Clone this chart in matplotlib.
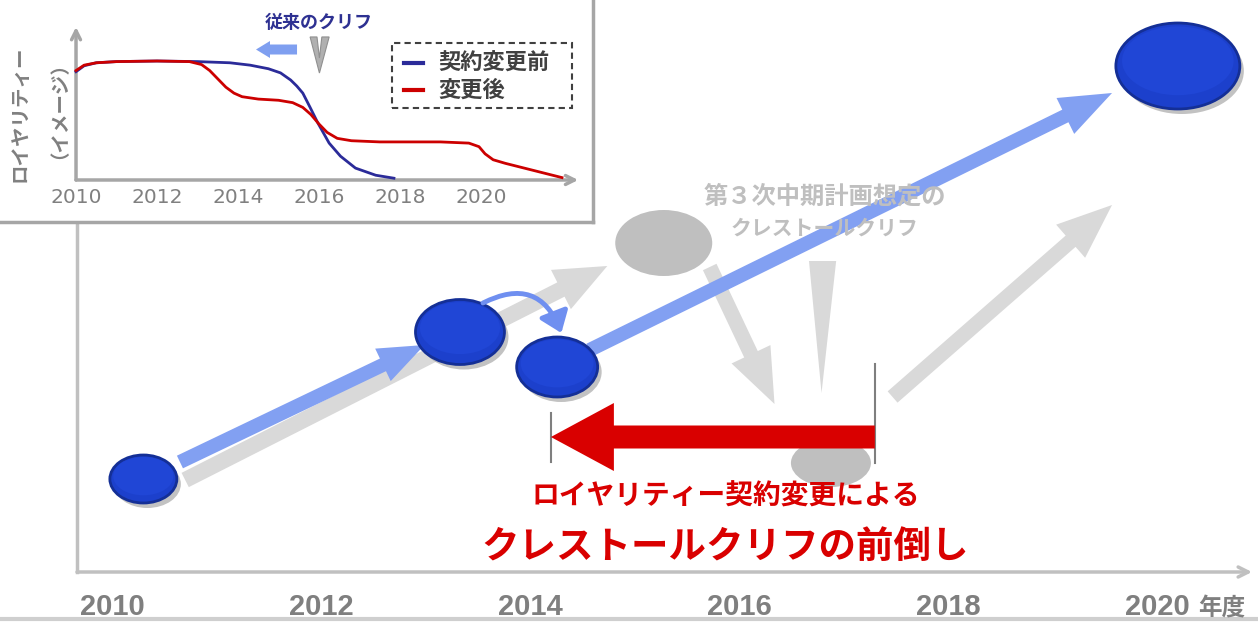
import numpy as np
import matplotlib
matplotlib.use("Agg")
import matplotlib.pyplot as plt
from matplotlib.patches import Ellipse, FancyArrowPatch, Rectangle, Polygon, ArrowStyle

plt.rcParams['font.family'] = ['Noto Sans CJK JP', 'DejaVu Sans']

DPI = 100
PT = 72.0 / DPI   # px -> pt

# ---- main diagram data (x = fiscal year, y = royalty level) ----
years = [2010, 2012, 2014, 2016, 2018, 2020]

blue_x = [2010.30, 2013.33, 2014.26, 2020.20]
blue_y = [0.93, 2.40, 2.05, 5.06]
blue_w = [67, 89, 81, 124]      # px
blue_h = [48, 65, 60, 86]

gray_x = [2015.28, 2016.88]
gray_y = [3.29, 1.09]
gray_w = [97, 80]
gray_h = [66, 48]

# arrows: (tail, head, shaft, head width, head length) in px sizes
blue_arrows = [((2010.65, 1.10), (2012.99, 2.27), 14, 36, 46),
               ((2014.57, 2.22), (2019.57, 4.79), 14, 40, 52)]
gray_arrows = [((2010.70, 0.92), (2014.74, 3.06), 16, 44, 52),
               ((2015.72, 3.05), (2016.34, 1.68), 15, 43, 55),
               ((2017.47, 1.75), (2019.57, 3.67), 15, 44, 55)]
wedge = [(2016.67, 3.11), (2016.93, 3.11), (2016.79, 1.79)]

old_cliff = 2017.30
new_cliff = 2014.20
red_y = 1.35

# ---- inset data ----
inset_years = [2010, 2012, 2014, 2016, 2018, 2020]
before_x = [2010.0, 2010.2, 2010.5, 2011.0, 2012.0, 2013.0, 2013.8, 2014.3, 2014.75, 2015.05,
            2015.3, 2015.45, 2015.6, 2015.78, 2015.97, 2016.25, 2016.53, 2016.9, 2017.4, 2017.85]
before_y = [0.91, 0.96, 0.985, 0.995, 1.0, 0.995, 0.985, 0.965, 0.935, 0.90,
            0.84, 0.79, 0.73, 0.61, 0.48, 0.31, 0.20, 0.10, 0.04, 0.015]
after_x = [2010.0, 2010.2, 2010.5, 2011.0, 2012.0, 2012.8, 2013.1, 2013.3, 2013.5, 2013.7,
           2013.9, 2014.1, 2014.5, 2015.0, 2015.35, 2015.6, 2015.8, 2016.0, 2016.2, 2016.45,
           2016.8, 2017.5, 2019.0, 2019.7, 2019.95, 2020.1, 2020.3, 2020.6, 2021.3, 2022.0]
after_y = [0.92, 0.965, 0.985, 0.995, 1.0, 0.995, 0.97, 0.92, 0.85, 0.78,
           0.73, 0.70, 0.68, 0.67, 0.65, 0.61, 0.55, 0.47, 0.40, 0.35,
           0.33, 0.32, 0.32, 0.31, 0.28, 0.22, 0.17, 0.14, 0.08, 0.02]

fig = plt.figure(figsize=(12.58, 6.23), dpi=DPI)
ax = fig.add_axes([0, 0, 1, 1])
ax.set_xlim(2008.928, 2020.967)
ax.set_ylim(-0.51, 5.72)
ax.axis('off')

sx = 1 / 104.5   # years per px
sy = 1 / 100.0   # value per px


def block_arrow(a, tail, head, shaft, hw, hl, color, z):
    st = ArrowStyle('simple', head_length=hl, head_width=hw, tail_width=shaft)
    a.add_patch(FancyArrowPatch(tail, head, arrowstyle=st, mutation_scale=PT,
                                color=color, lw=0, shrinkA=0, shrinkB=0, zorder=z))


# axes of the diagram
ax.plot([2009.665, 2009.665], [0, 3.6], color='#c0c0c0', lw=2.5, zorder=1)
ax.annotate('', xy=(2020.91, 0), xytext=(2009.665, 0),
            arrowprops=dict(arrowstyle='->', color='#c0c0c0', lw=2.5,
                            shrinkA=0, shrinkB=0, mutation_scale=18))
ax.plot([2008.928, 2020.967], [-0.47, -0.47], color='#cfcfcf', lw=3)

for yr in years:
    ax.text(yr, -0.35, str(yr), ha='center', va='center', fontsize=21,
            fontweight='bold', color='#7f7f7f', family=['Liberation Sans', 'DejaVu Sans'])
ax.text(2020.62, -0.36, '年度', ha='center', va='center', fontsize=17,
        fontweight='bold', color='#7f7f7f')

# gray arrows / wedge
for tail, head, s, hw, hl in gray_arrows:
    block_arrow(ax, tail, head, s, hw, hl, '#d9d9d9', 2)
ax.add_patch(Polygon(wedge, closed=True, fc='#d9d9d9', ec='none', zorder=2))

# gray ellipses
for x, y, w, h in zip(gray_x, gray_y, gray_w, gray_h):
    ax.add_patch(Ellipse((x, y), w * sx, h * sy, fc='#bfbfbf', ec='none', zorder=2))

# blue arrows
for tail, head, s, hw, hl in blue_arrows:
    block_arrow(ax, tail, head, s, hw, hl, '#82a0f2', 3)

# blue ellipses with shadow
for x, y, w, h in zip(blue_x, blue_y, blue_w, blue_h):
    ax.add_patch(Ellipse((x + 4 * sx, y - 5 * sy), w * sx, h * sy, fc='#a8a8a8',
                         ec='none', alpha=0.7, zorder=4))
    ax.add_patch(Ellipse((x, y), w * sx, h * sy, fc='#1c40cc', ec='#142f96',
                         lw=2, zorder=4))
    ax.add_patch(Ellipse((x, y + 0.06 * h * sy), 0.9 * w * sx, 0.8 * h * sy,
                         fc='#2046d6', ec='none', zorder=4))

# small curved arrow between the two ellipses
ax.add_patch(FancyArrowPatch((2013.55, 2.69), (2014.30, 2.39),
                             connectionstyle='arc3,rad=-0.55',
                             arrowstyle=ArrowStyle('-|>', head_length=12, head_width=9),
                             mutation_scale=PT * 1.4, color='#6f8ff0', lw=3.5,
                             shrinkA=0, shrinkB=0, zorder=5))

# cliff brought forward
ax.plot([old_cliff, old_cliff], [1.09, 2.08], color='#7f7f7f', lw=1.5, zorder=5)
ax.plot([new_cliff, new_cliff], [1.10, 1.59], color='#7f7f7f', lw=1.5, zorder=5)
block_arrow(ax, (old_cliff, red_y), (new_cliff, red_y), 23, 68, 63, '#d90000', 6)

ax.text(2016.82, 3.75, '第３次中期計画想定の', ha='center', va='center', fontsize=17.5,
        fontweight='bold', color='#bfbfbf', zorder=6)
ax.text(2016.82, 3.44, 'クレストールクリフ', ha='center', va='center', fontsize=15,
        fontweight='bold', color='#bfbfbf', zorder=6)
ax.text(2015.87, 0.75, 'ロイヤリティー契約変更による', ha='center', va='center',
        fontsize=20, fontweight='bold', color='#d90000', zorder=6)
ax.text(2015.87, 0.26, 'クレストールクリフの前倒し', ha='center', va='center',
        fontsize=27, fontweight='bold', color='#d90000', zorder=6)

# ---- inset chart ----
ins = fig.add_axes([0, 1 - 222 / 623, 593 / 1258, 222 / 623])
ins.set_xlim(2008.123, 2022.765)
ins.set_ylim(-0.353, 1.5126)
ins.set_xticks([])
ins.set_yticks([])
ins.set_facecolor('white')
for side in ['top', 'left']:
    ins.spines[side].set_visible(False)
for side in ['right', 'bottom']:
    ins.spines[side].set_color('#a6a6a6')
    ins.spines[side].set_linewidth(2.5)

ins.annotate('', xy=(2010, 1.286), xytext=(2010, 0),
             arrowprops=dict(arrowstyle='->', color='#a6a6a6', lw=2.5,
                             shrinkA=0, shrinkB=0, mutation_scale=16))
ins.annotate('', xy=(2022.4, 0), xytext=(2010, 0),
             arrowprops=dict(arrowstyle='->', color='#a6a6a6', lw=2.5,
                             shrinkA=0, shrinkB=0, mutation_scale=16))
for yr in inset_years:
    ins.text(yr, -0.151, str(yr), ha='center', va='center', fontsize=14.5,
             color='#808080', family=['DejaVu Sans'])

ins.plot(before_x, before_y, color='#2b2b99', lw=2, zorder=3)
ins.plot(after_x, after_y, color='#cc0000', lw=2, zorder=3)

ins.text(2008.62, 0.56, 'ロイヤリティー', rotation=90, ha='center', va='center',
         fontsize=14, fontweight='bold', color='#808080')
ins.text(2009.35, 0.67, '（イメージ）', rotation=90, ha='center', va='center',
         fontsize=14, fontweight='bold', color='#808080')

# legend
ins.add_patch(Rectangle((2017.80, 0.605), 4.45, 0.546, fill=False, ec='#404040',
                        lw=1.5, ls=(0, (3, 2)), zorder=4))
ins.plot([2018.10, 2018.57], [0.983, 0.983], color='#2b2b99', lw=3, zorder=4)
ins.plot([2018.10, 2018.57], [0.756, 0.756], color='#cc0000', lw=3, zorder=4)
ins.text(2018.95, 0.983, '契約変更前', ha='left', va='center', fontsize=16,
         fontweight='bold', color='#404040')
ins.text(2018.95, 0.756, '変更後', ha='left', va='center', fontsize=16,
         fontweight='bold', color='#404040')

ins.text(2015.98, 1.328, '従来のクリフ', ha='center', va='center', fontsize=13,
         fontweight='bold', color='#2e3192')
block_arrow(ins, (2015.457, 1.0966), (2014.444, 1.0966), 10, 17, 14, '#7f9ff0', 4)
chevron = [(2015.78, 1.202), (2015.95, 1.202), (2016.01, 1.025), (2016.07, 1.202),
           (2016.25, 1.202), (2016.01, 0.899)]
ins.add_patch(Polygon(chevron, closed=True, fc='#b0b0b0', ec='#909090', lw=0.8, zorder=4))

fig.savefig('out.png', dpi=DPI)
